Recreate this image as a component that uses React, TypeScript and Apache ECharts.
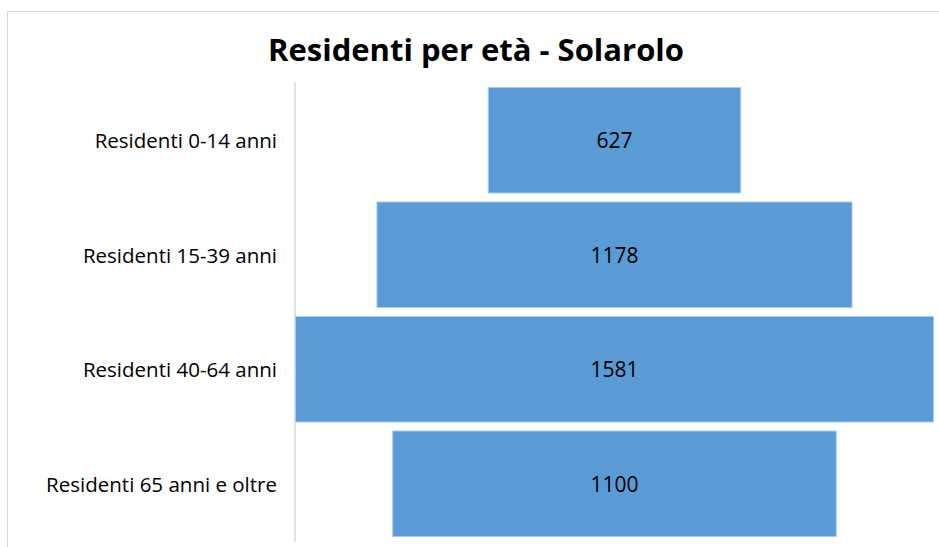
import React, { useEffect, useRef } from "react";
import * as echarts from "echarts";

const categories = [
  "Residenti 0-14 anni",
  "Residenti 15-39 anni",
  "Residenti 40-64 anni",
  "Residenti 65 anni e oltre",
];
const residents = [627, 1178, 1581, 1100];
const titleText = "Residenti per età - Solarolo";

const FONT = "'Open Sans', sans-serif";

export default function App() {
  const ref = useRef<HTMLDivElement>(null);
  useEffect(() => {
    if (!ref.current) return;
    const chart = echarts.init(ref.current, null, { renderer: "svg" });
    const maxV = Math.max(...residents);
    const offsets = residents.map((v) => (maxV - v) / 2);
    chart.setOption({
      animation: false,
      backgroundColor: "#ffffff",
      graphic: [
        {
          type: "rect",
          shape: { x: 7.5, y: 11.5, width: 960, height: 600 },
          style: { fill: "none", stroke: "#d9d9d9", lineWidth: 1 },
          z: -1,
        },
        {
          type: "text",
          x: 476,
          y: 49,
          style: {
            text: titleText,
            align: "center",
            verticalAlign: "middle",
            fontFamily: FONT,
            fontSize: 31,
            fontWeight: "bold",
            fill: "#000",
          },
        },
      ],
      grid: { left: 295, right: 5, top: 83, bottom: 6, containLabel: false },
      xAxis: {
        type: "value",
        min: 0,
        max: maxV,
        show: false,
      },
      yAxis: {
        type: "category",
        inverse: true,
        data: categories,
        axisLine: { show: true, lineStyle: { color: "#d9d9d9", width: 1.5 } },
        axisTick: { show: false },
        axisLabel: { fontFamily: FONT, fontSize: 20.5, color: "#000", margin: 18 },
      },
      series: [
        {
          type: "bar",
          stack: "s",
          data: offsets,
          itemStyle: { color: "transparent" },
          silent: true,
          barCategoryGap: "7%",
        },
        {
          type: "bar",
          stack: "s",
          data: residents,
          barCategoryGap: "7%",
          itemStyle: { color: "#5B9BD5", borderColor: "#a9cbee", borderWidth: 1 },
          label: {
            show: true,
            position: "inside",
            fontFamily: FONT,
            fontSize: 21,
            color: "#000",
          },
        },
      ],
    });
    return () => chart.dispose();
  }, []);
  return (
    <div
      ref={ref}
      style={{ position: "absolute", left: 0, top: 0, width: 939, height: 547 }}
    />
  );
}
